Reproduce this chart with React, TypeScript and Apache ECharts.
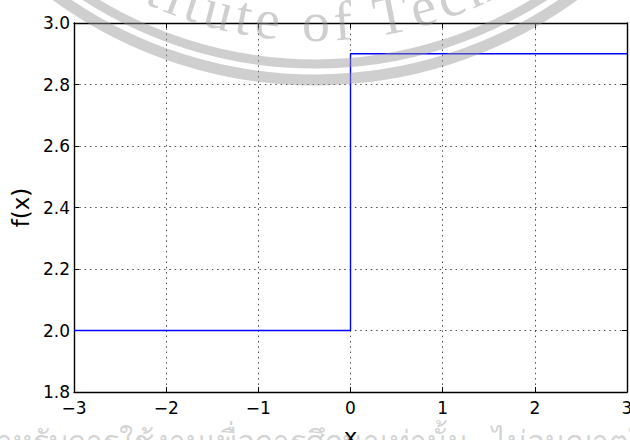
import React, { useEffect, useRef } from "react";
import * as echarts from "echarts";

// Step function f(x): breakpoints and values
const stepX: number[] = [-3, 0, 3];
const stepY: number[] = [2.0, 2.9, 2.9];

const xMin = -3;
const xMax = 3;
const xStep = 1;
const yMin = 1.8;
const yMax = 3.0;
const yStep = 0.2;

const xLabel = "x";
const yLabel = "f(x)";

const sealText = "Institute of Technology";
const footerText =
  "สำหรับการใช้งานเพื่อการศึกษาเท่านั้น\u00a0\u00a0\u00a0ไม่อนุญาตให้นำไปใช้เชิงพาณิชย์";

const FONT = "DejaVu Sans";

const charW: Record<string, number> = {
  I: 0.333, n: 0.5, s: 0.389, t: 0.278, i: 0.278, u: 0.5, e: 0.444, " ": 0.25,
  o: 0.5, f: 0.333, T: 0.611, c: 0.444, h: 0.5, l: 0.278, g: 0.5, y: 0.5,
};

function buildWatermark(): any[] {
  const cx = 315;
  const cy = -360;
  const wmColor = "rgba(150,150,150,0.46)";
  const els: any[] = [
    {
      type: "arc",
      silent: true,
      z: 100,
      shape: { cx, cy, r: 440, startAngle: 0.3, endAngle: Math.PI - 0.3 },
      style: { stroke: wmColor, lineWidth: 11, fill: "none" },
    },
    {
      type: "arc",
      silent: true,
      z: 100,
      shape: { cx, cy, r: 424, startAngle: 0.3, endAngle: Math.PI - 0.3 },
      style: { stroke: wmColor, lineWidth: 9, fill: "none" },
    },
  ];
  const F = 56;
  const track = 5;
  const centers: number[] = [];
  let acc = 0;
  for (const ch of sealText) {
    const w = (charW[ch] ?? 0.5) * F;
    centers.push(acc + w / 2);
    acc += w + track;
  }
  const anchorIdx = sealText.indexOf("of");
  const shift = 1 - centers[anchorIdx];
  const rBase = 400;
  const rMid = 382;
  Array.from(sealText).forEach((ch, i) => {
    if (ch === " ") return;
    const s = centers[i] + shift;
    const th = s / rBase;
    els.push({
      type: "text",
      silent: true,
      z: 100,
      x: cx + rMid * Math.sin(th),
      y: cy + rMid * Math.cos(th),
      rotation: th,
      style: {
        text: ch,
        fill: wmColor,
        font: `${F}px "Liberation Serif", serif`,
        textAlign: "center",
        textVerticalAlign: "middle",
      },
    });
  });
  els.push({
    type: "text",
    silent: true,
    z: 100,
    x: -22,
    y: 440,
    style: {
      text: footerText,
      fill: "rgba(150,150,150,0.42)",
      font: `30px "Noto Sans", "DejaVu Sans", sans-serif`,
      textAlign: "left",
      textVerticalAlign: "middle",
    },
  });
  return els;
}

export default function App() {
  const ref = useRef<HTMLDivElement>(null);

  useEffect(() => {
    if (!ref.current) return;
    const chart = echarts.init(ref.current, null, { renderer: "svg" });

    const frameLine = { show: true, onZero: false, lineStyle: { color: "#000", width: 1.4 } };
    const tick = { show: true, inside: true, length: 5, lineStyle: { color: "#000", width: 1 } };
    const split = { show: true, lineStyle: { color: "#000", width: 1, type: [1.5, 3.8], opacity: 0.7 } };
    const fmtX = (v: number) => (v < 0 ? "\u2212" + Math.abs(v) : String(v));

    chart.setOption({
      animation: false,
      backgroundColor: "#fff",
      grid: {
        left: 74,
        top: 23,
        width: 553,
        height: 369,
        show: false,
        containLabel: false,
        outerBoundsMode: "none",
      },
      xAxis: [
        {
          type: "value",
          min: xMin,
          max: xMax,
          interval: xStep,
          position: "bottom",
          axisLine: frameLine,
          axisTick: tick,
          splitLine: split,
          axisLabel: { margin: 7, fontSize: 17, color: "#000", fontFamily: FONT, formatter: fmtX },
          name: xLabel,
          nameLocation: "middle",
          nameGap: 33,
          nameTextStyle: { fontSize: 23, color: "#000", fontFamily: FONT },
        },
        {
          type: "value",
          min: xMin,
          max: xMax,
          interval: xStep,
          position: "top",
          axisLine: frameLine,
          axisTick: tick,
          splitLine: { show: false },
          axisLabel: { show: false },
        },
      ],
      yAxis: [
        {
          type: "value",
          min: yMin,
          max: yMax,
          interval: yStep,
          position: "left",
          axisLine: frameLine,
          axisTick: tick,
          splitLine: split,
          axisLabel: {
            margin: 4,
            fontSize: 17,
            color: "#000",
            fontFamily: FONT,
            formatter: (v: number) => v.toFixed(1),
          },
          name: yLabel,
          nameLocation: "middle",
          nameRotate: 90,
          nameGap: 40,
          nameTextStyle: { fontSize: 23, color: "#000", fontFamily: FONT },
        },
        {
          type: "value",
          min: yMin,
          max: yMax,
          interval: yStep,
          position: "right",
          axisLine: frameLine,
          axisTick: tick,
          splitLine: { show: false },
          axisLabel: { show: false },
        },
      ],
      series: [
        {
          type: "line",
          xAxisIndex: 0,
          yAxisIndex: 0,
          data: stepX.map((x, i) => [x, stepY[i]]),
          step: "end",
          symbol: "none",
          lineStyle: { color: "#0000ff", width: 1.4 },
          z: 3,
        },
      ],
      graphic: buildWatermark(),
    });

    return () => chart.dispose();
  }, []);

  return (
    <div
      ref={ref}
      style={{ position: "absolute", left: 0, top: 0, width: 630, height: 440, background: "#fff" }}
    />
  );
}
